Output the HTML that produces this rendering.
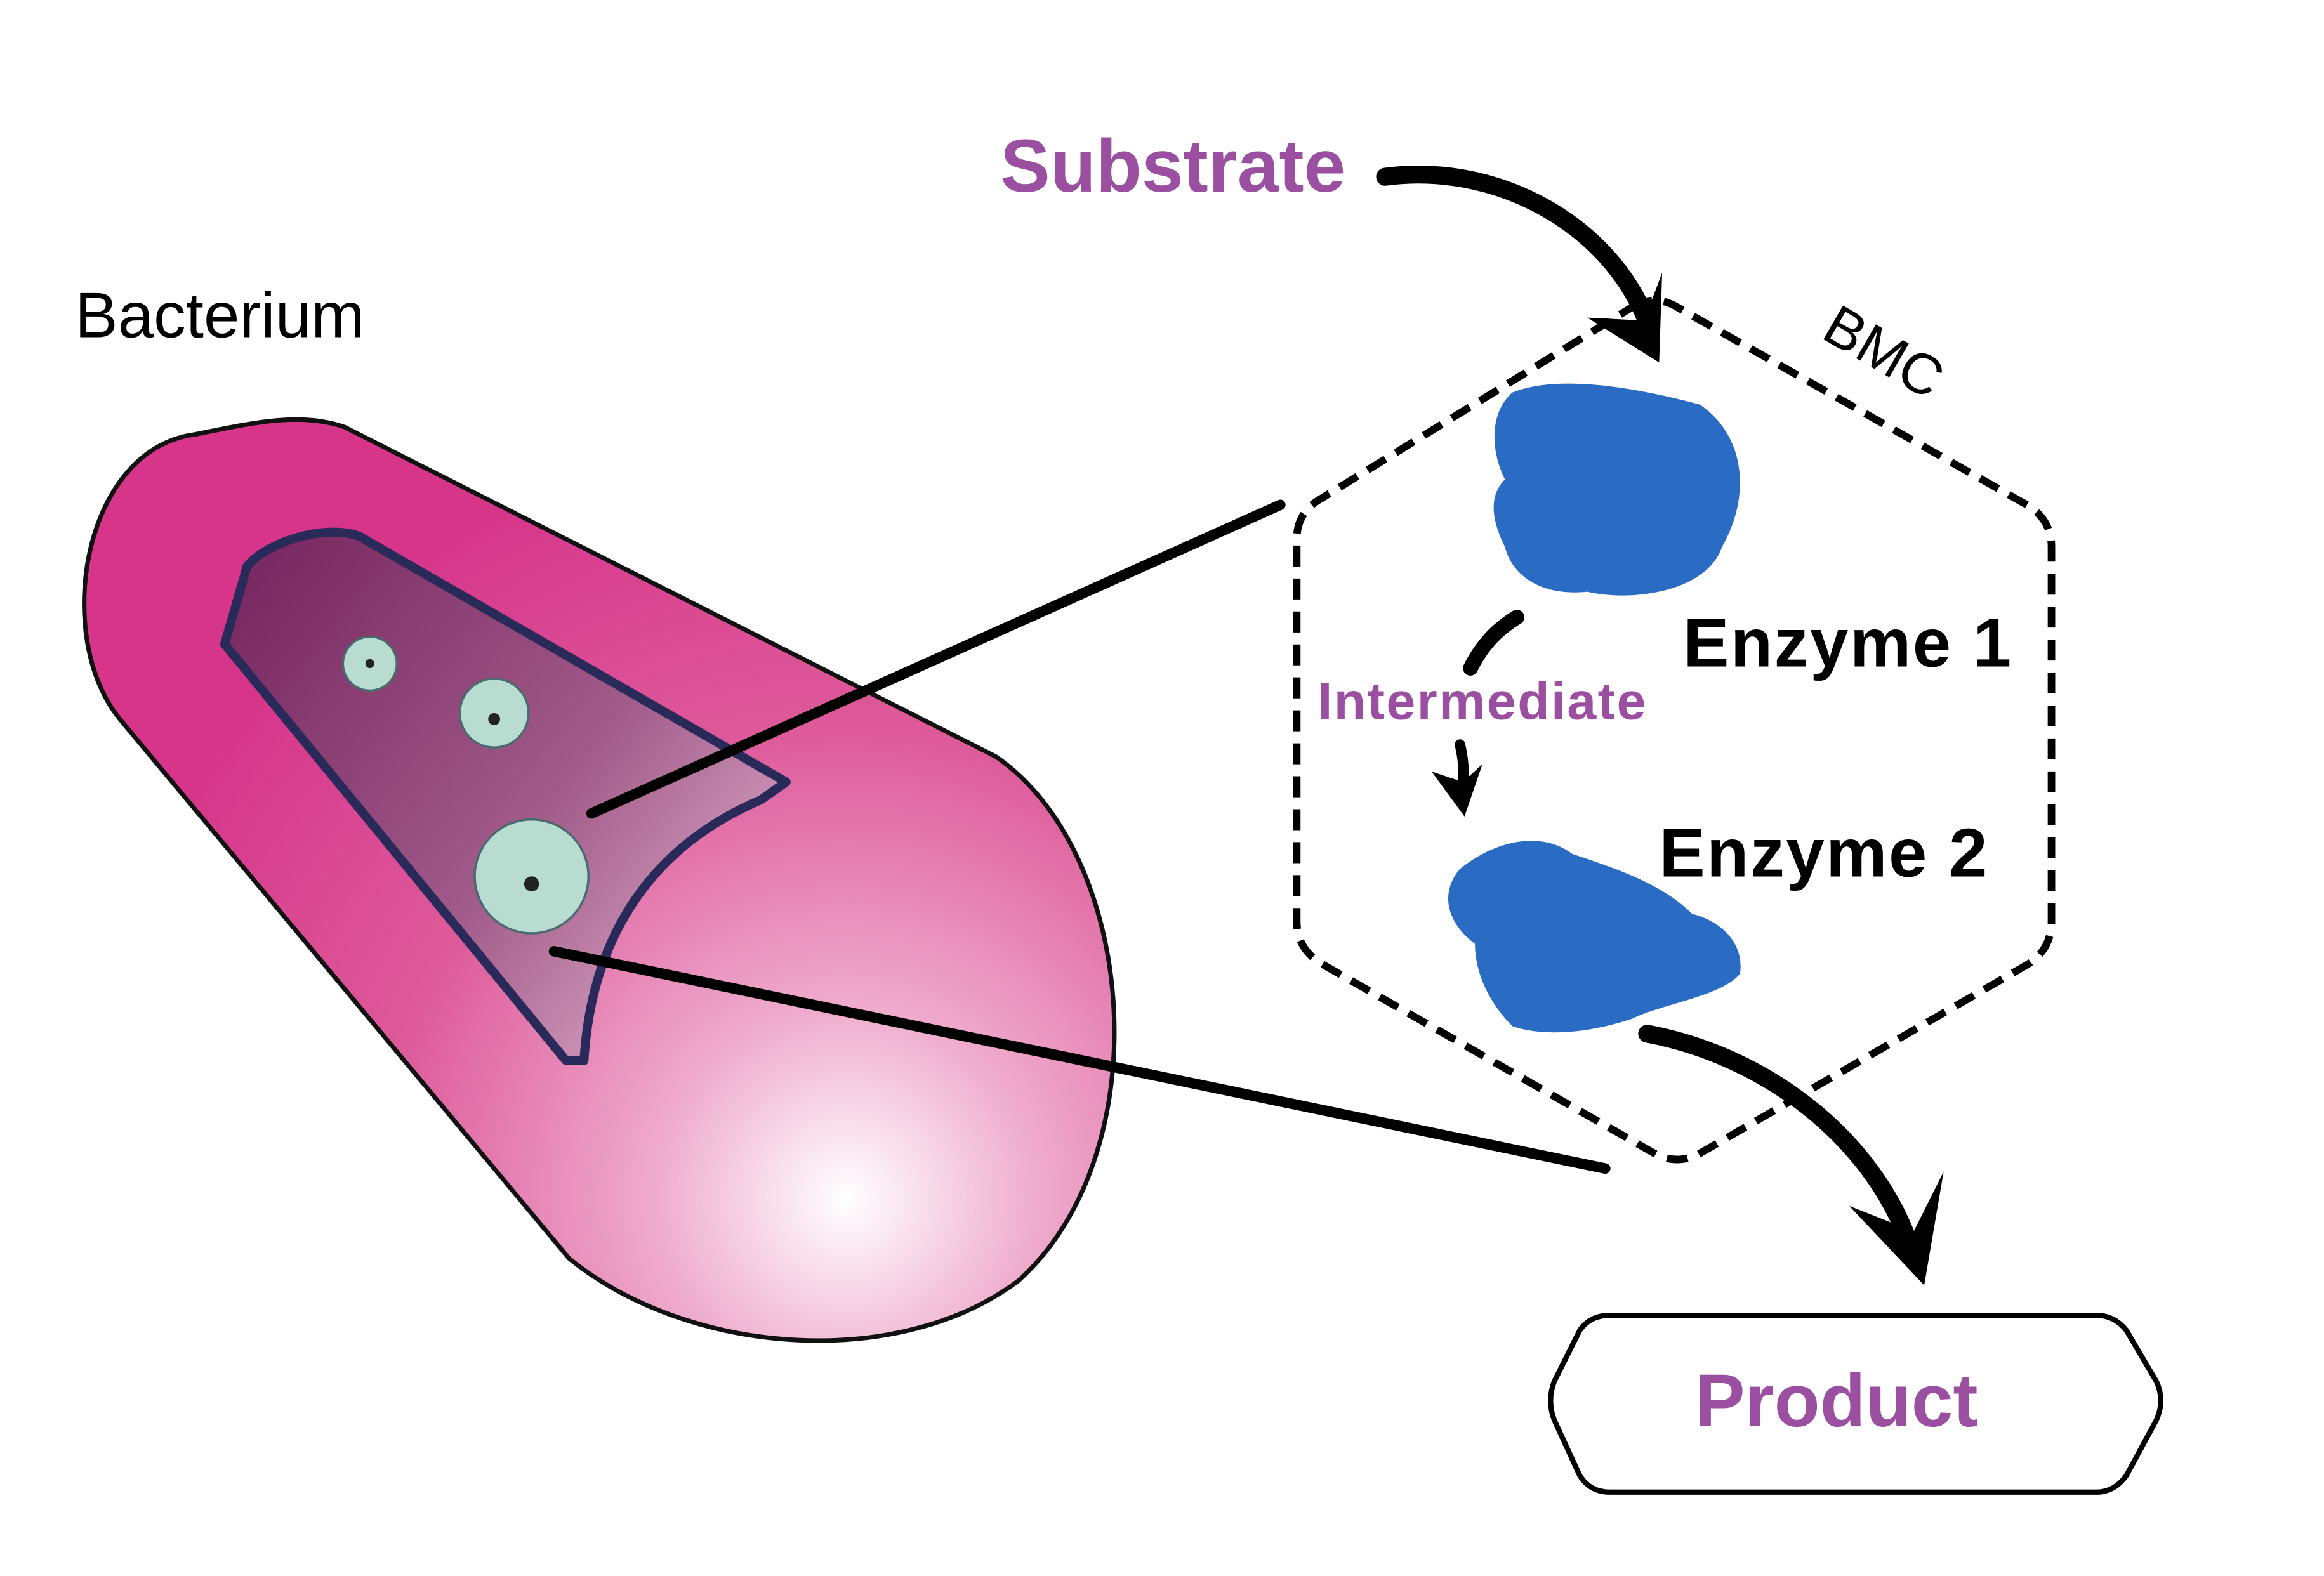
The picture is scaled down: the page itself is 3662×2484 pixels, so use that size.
<!DOCTYPE html>
<html><head><style>html,body{margin:0;padding:0;background:#fff}svg{display:block}</style></head>
<body>
<svg width="3662" height="2484" viewBox="0 0 1552 1052" preserveAspectRatio="none" xmlns="http://www.w3.org/2000/svg">
<defs>
<radialGradient id="pk" cx="565" cy="800" r="520" gradientUnits="userSpaceOnUse">
<stop offset="0" stop-color="#ffffff"/><stop offset="0.25" stop-color="#eeaacc"/><stop offset="0.6" stop-color="#de5a9a"/><stop offset="1" stop-color="#d6358a"/>
</radialGradient>
<linearGradient id="win" x1="160" y1="400" x2="480" y2="650" gradientUnits="userSpaceOnUse">
<stop offset="0" stop-color="#7a2a62"/><stop offset="0.6" stop-color="#a05a88"/><stop offset="1" stop-color="#d6a0c0"/>
</linearGradient>
</defs>
<rect width="1552" height="1052" fill="#fff"/>
<text x="50" y="225" font-family="Liberation Sans, sans-serif" font-size="43">Bacterium</text>
<path d="M230,285 L665,505 C760,570 775,770 680,855 C600,915 460,905 380,840 L80,480 C35,425 55,300 130,290 C170,282 200,275 230,285 Z" fill="url(#pk)" stroke="#111" stroke-width="3"/>
<path d="M150,430 L165,378 C180,360 220,350 240,358 L525,522 L508,534 C435,565 395,625 390,708 L378,708 Z" fill="url(#win)" stroke="#2a2a5a" stroke-width="6" stroke-linejoin="round"/>
<g stroke="#4a6a70" stroke-width="1.5" fill="#b8dcd0">
<circle cx="247" cy="443" r="18"/><circle cx="330" cy="476" r="23"/><circle cx="355" cy="585" r="38"/>
</g>
<g fill="#222"><circle cx="247" cy="443" r="3"/><circle cx="330" cy="480" r="4"/><circle cx="355" cy="590" r="5"/></g>
<line x1="395" y1="543" x2="855" y2="337" stroke="#000" stroke-width="7" stroke-linecap="round"/>
<line x1="370" y1="635" x2="1072" y2="780" stroke="#000" stroke-width="7" stroke-linecap="round"/>
<path d="M1090,205 Q1105,196 1120,205 L1350,335 Q1370,345 1370,365 L1370,615 Q1370,635 1352,645 L1135,770 Q1120,778 1105,770 L882,643 Q866,633 866,615 L866,360 Q866,342 882,333 Z" fill="none" stroke="#000" stroke-width="5" stroke-dasharray="14 8"/>
<text x="1215" y="225" transform="rotate(30 1215 225)" font-family="Liberation Sans, sans-serif" font-size="38">BMC</text>
<text x="668" y="128" font-family="Liberation Sans, sans-serif" font-weight="bold" font-size="50" fill="#9b4fa0">Substrate</text>
<path d="M925,118 C1000,108 1075,150 1100,215" fill="none" stroke="#000" stroke-width="12" stroke-linecap="round"/>
<path d="M1060,212 L1108,242 L1110,182 L1098,214 Z" fill="#000"/>
<path d="M1010,262 C1040,250 1090,258 1135,270 C1165,290 1170,330 1150,365 C1140,395 1090,402 1060,395 C1030,398 1010,385 1005,365 C995,345 995,330 1005,320 C995,300 995,275 1010,262 Z" fill="#2a6bc4"/>
<path d="M975,580 C1000,560 1030,555 1050,570 C1080,580 1110,590 1130,610 C1150,615 1165,630 1162,650 C1150,665 1110,670 1090,680 C1060,690 1030,692 1010,685 C995,670 985,650 985,630 C965,615 962,595 975,580 Z" fill="#2a6bc4"/>
<text x="1124" y="445" font-family="Liberation Sans, sans-serif" font-weight="bold" font-size="46" letter-spacing="1">Enzyme 1</text>
<text x="1108" y="585" font-family="Liberation Sans, sans-serif" font-weight="bold" font-size="46" letter-spacing="1">Enzyme 2</text>
<text x="880" y="480" font-family="Liberation Sans, sans-serif" font-weight="bold" font-size="35" letter-spacing="1" fill="#9b4fa0">Intermediate</text>
<path d="M1013,412 C1000,420 990,430 982,446" fill="none" stroke="#000" stroke-width="10" stroke-linecap="round"/>
<path d="M975,497 C978,510 978,520 976,530" fill="none" stroke="#000" stroke-width="7" stroke-linecap="round"/>
<path d="M956,515 L978,545 L990,510 L977,522 Z" fill="#000"/>
<path d="M1100,690 C1180,705 1250,760 1275,830" fill="none" stroke="#000" stroke-width="12" stroke-linecap="round"/>
<path d="M1235,805 L1285,858 L1298,782 L1278,822 Z" fill="#000"/>
<path d="M1075,878 L1400,878 Q1412,878 1420,888 L1440,922 Q1446,935 1440,948 L1420,985 Q1412,996 1400,996 L1075,996 Q1062,996 1055,985 L1038,948 Q1033,935 1038,922 L1055,888 Q1062,878 1075,878 Z" fill="#fff" stroke="#000" stroke-width="3.5"/>
<text x="1132" y="952" font-family="Liberation Sans, sans-serif" font-weight="bold" font-size="50" fill="#9b4fa0">Product</text>
</svg>
</body></html>
